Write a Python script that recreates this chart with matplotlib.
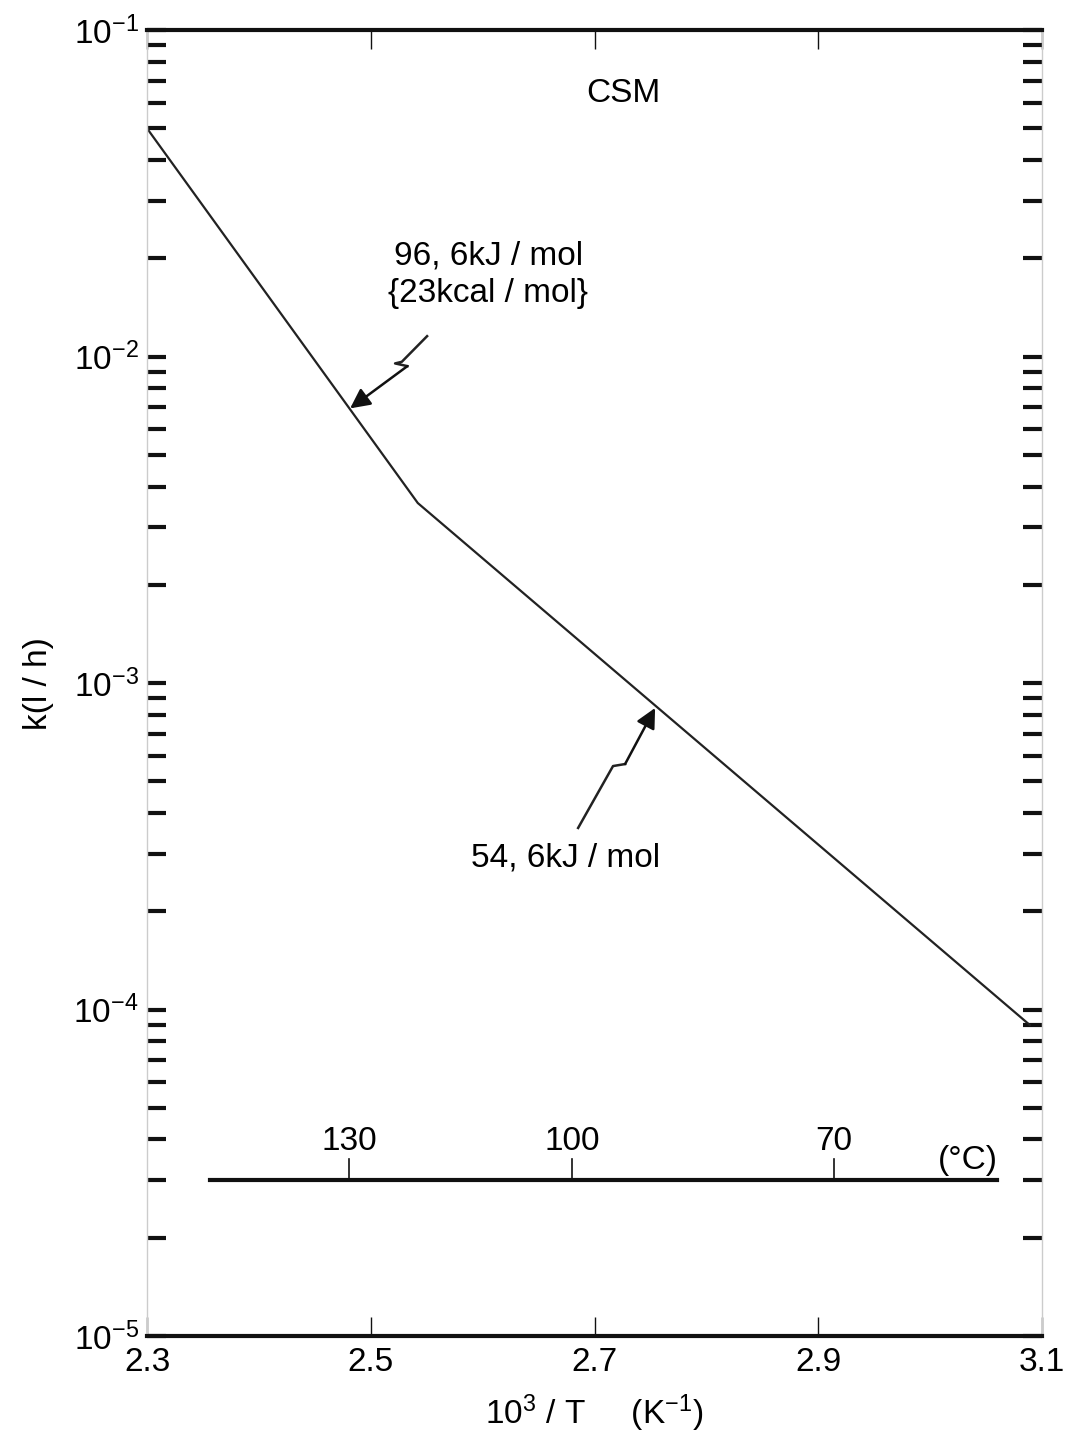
import numpy as np
import matplotlib
matplotlib.use("Agg")
import matplotlib.pyplot as plt
from matplotlib import font_manager
from matplotlib.ticker import LogLocator, FixedLocator, NullFormatter

# pick a narrow arial-like font if we have one
names = set(f.name for f in font_manager.fontManager.ttflist)
fam = "Liberation Sans Narrow" if "Liberation Sans Narrow" in names else "Liberation Sans"
plt.rcParams['font.family'] = [fam, 'DejaVu Sans']
plt.rcParams['mathtext.fontset'] = 'custom'
plt.rcParams['mathtext.rm'] = fam
plt.rcParams['mathtext.it'] = fam
plt.rcParams['mathtext.bf'] = fam

# rate constant vs 1000/T, two straight pieces
inv_T = [2.30, 2.542, 3.089]
k_rate = [5.0e-2, 3.56e-3, 8.97e-5]

# celsius scale drawn inside the plot
celsius = [130, 100, 70]
scale_x = [2.356, 3.060]
scale_y = 3.0e-5

xticks = [2.3, 2.5, 2.7, 2.9, 3.1]
yticks = [1e-5, 1e-4, 1e-3, 1e-2, 1e-1]

# zigzag leader lines (1000/T, k), last point is the arrow tip
lead1_x = [2.5503, 2.5277, 2.5217, 2.5327, 2.4815]
lead1_k = [1.155e-2, 9.64e-3, 9.53e-3, 9.35e-3, 6.94e-3]
lead2_x = [2.6853, 2.7165, 2.7273, 2.7541]
lead2_k = [3.60e-4, 5.57e-4, 5.65e-4, 8.39e-4]

fig = plt.figure(figsize=(10.71, 14.34), dpi=100)
ax = fig.add_axes([0.1373, 0.0683, 0.8357, 0.9107])
ax.set_yscale('log')
ax.set_xlim(2.3, 3.1)
ax.set_ylim(1e-5, 1e-1)

ax.plot(inv_T, k_rate, color='#222222', lw=1.6)

# leaders
for lx, lk in [(lead1_x, lead1_k), (lead2_x, lead2_k)]:
    ax.plot(lx[:-1], lk[:-1], color='#222222', lw=1.8)
    ax.annotate('', xy=(lx[-1], lk[-1]), xytext=(lx[-2], lk[-2]),
                arrowprops=dict(arrowstyle='-|>', color='#111111', lw=1.8,
                                mutation_scale=30, shrinkA=0, shrinkB=0))

fs = 24
ax.text(2.7255, 0.0641, 'CSM', ha='center', va='center', fontsize=fs)
ax.text(2.605, 0.0178, '96, 6kJ / mol\n{23kcal / mol}', ha='center', va='center',
        fontsize=fs, linespacing=1.25)
ax.text(2.6745, 2.91e-4, '54, 6kJ / mol', ha='center', va='center', fontsize=fs)

# celsius bar
ax.plot(scale_x, [scale_y, scale_y], color='#111111', lw=3)
for c in celsius:
    xc = 1000.0 / (c + 273.15)
    ax.plot([xc, xc], [scale_y, scale_y * 1.16], color='#111111', lw=1.2)
    ax.text(xc, scale_y * 1.31, str(c), ha='center', va='center', fontsize=fs)
ax.text(3.034, 3.46e-5, '(°C)', ha='center', va='center', fontsize=fs)

# spines
for s in ['top', 'bottom']:
    ax.spines[s].set_linewidth(3)
    ax.spines[s].set_color('#111111')
for s in ['left', 'right']:
    ax.spines[s].set_linewidth(1)
    ax.spines[s].set_color('#cccccc')

ax.xaxis.set_major_locator(FixedLocator(xticks))
ax.set_xticklabels([str(v) for v in xticks])
ax.yaxis.set_major_locator(FixedLocator(yticks))
ax.set_yticklabels([r'$10^{%d}$' % int(np.log10(v)) for v in yticks])
ax.yaxis.set_minor_locator(LogLocator(base=10, subs=np.arange(2, 10)))
ax.yaxis.set_minor_formatter(NullFormatter())

ax.tick_params(axis='x', which='major', direction='in', top=True, bottom=True,
               length=14, width=1, color='#111111', labelsize=fs, pad=8)
ax.tick_params(axis='y', which='both', direction='in', left=True, right=True,
               length=14, width=3, color='#111111', labelsize=fs, pad=6)

ax.set_xlabel(r'$10^3$ / T     (K$^{-1}$)', fontsize=fs, labelpad=10)
ax.set_ylabel('k(l / h)', fontsize=fs, labelpad=14)

fig.savefig('out.png', dpi=100)
